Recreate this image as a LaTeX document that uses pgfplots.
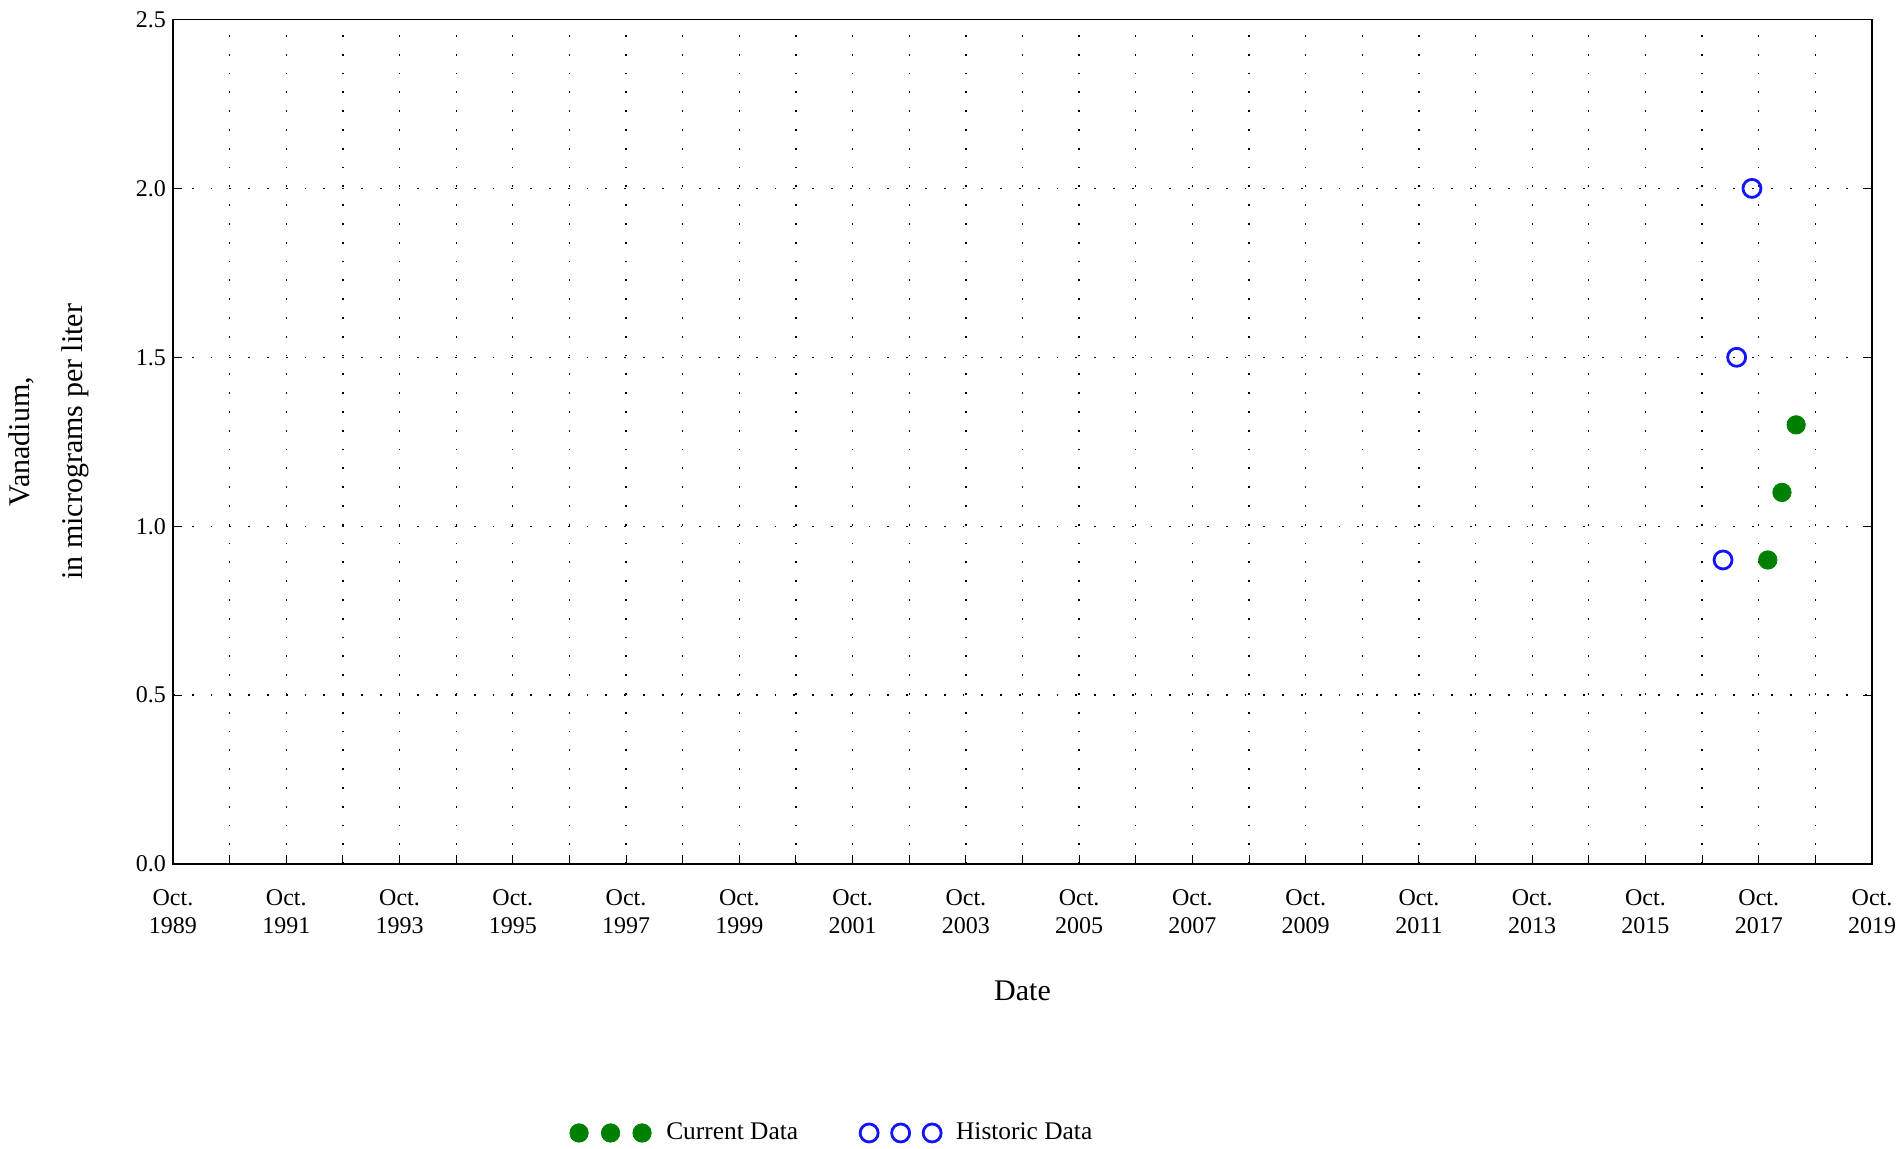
\documentclass[border=0pt]{standalone}
\usepackage{fontspec}
\setmainfont{Liberation Serif}
\usepackage{pgfplots}
\pgfplotsset{compat=1.18}
\definecolor{curgreen}{RGB}{0,128,0}
\definecolor{histblue}{RGB}{20,20,255}
\pgfplotsset{
  threemarks/.style={
    legend image code/.code={
      \draw[##1, mark repeat=1, mark phase=1] plot coordinates {(0pt,0pt) (15.75pt,0pt) (31.5pt,0pt)};
    }
  }
}
\begin{document}
\begin{tikzpicture}[font=\fontsize{12}{14}\selectfont]
\useasboundingbox (-86.5pt,-142.5pt) rectangle (863.5pt,432pt);
\begin{axis}[
  at={(0pt,0pt)}, anchor=south west,
  scale only axis, width=849.5pt, height=422.25pt,
  xmin=0, xmax=30, ymin=0, ymax=2.5,
  % x = years since Oct. 1989
  xtick={0,1,...,30},
  xticklabels={{Oct.\\1989},,{Oct.\\1991},,{Oct.\\1993},,{Oct.\\1995},,{Oct.\\1997},,
    {Oct.\\1999},,{Oct.\\2001},,{Oct.\\2003},,{Oct.\\2005},,{Oct.\\2007},,
    {Oct.\\2009},,{Oct.\\2011},,{Oct.\\2013},,{Oct.\\2015},,{Oct.\\2017},,{Oct.\\2019}},
  xticklabel style={align=center, yshift=-9.5pt},
  ytick={0,0.5,1,1.5,2,2.5},
  yticklabel style={/pgf/number format/fixed, /pgf/number format/fixed zerofill, /pgf/number format/precision=1},
  /pgf/number format/assume math mode=true,
  tick align=inside, xtick pos=bottom, ytick pos=both, yticklabel pos=left,
  major tick length=4.5pt,
  tick style={black, line width=0.5pt},
  grid=major,
  grid style={black, line width=0.65pt, dash pattern=on 0.9pt off 8.5pt},
  axis line style={line width=0.6pt},
  xlabel={Date},
  every axis x label/.style={at={(axis description cs:0.5,-0.1504)}, anchor=center, font=\fontsize{15}{17}\selectfont},
  ylabel={Vanadium,\\[9pt]in micrograms per liter},
  every axis y label/.style={at={(axis description cs:-0.0733,0.5)}, rotate=90, anchor=center, align=center, font=\fontsize{15}{17.5}\selectfont},
  legend columns=2,
  legend cell align=left,
  legend style={at={(axis description cs:0.3885,-0.3185)}, anchor=center, draw=none, fill=none,
    font=\fontsize{12.7}{14}\selectfont,
    /tikz/every odd column/.append style={column sep=5.5pt},
    /tikz/every even column/.append style={column sep=29pt}},
  clip=false,
]
\addplot[only marks, mark=*, mark size=4.6pt, color=curgreen, threemarks]
  coordinates {(28.16,0.9) (28.41,1.1) (28.66,1.3)};
\addlegendentry{Current Data}
\addplot[only marks, mark=o, mark size=4.5pt, color=histblue, mark options={line width=1.4pt}, threemarks]
  coordinates {(27.37,0.9) (27.61,1.5) (27.88,2.0)};
\addlegendentry{Historic Data}
\end{axis}
\end{tikzpicture}
\end{document}
